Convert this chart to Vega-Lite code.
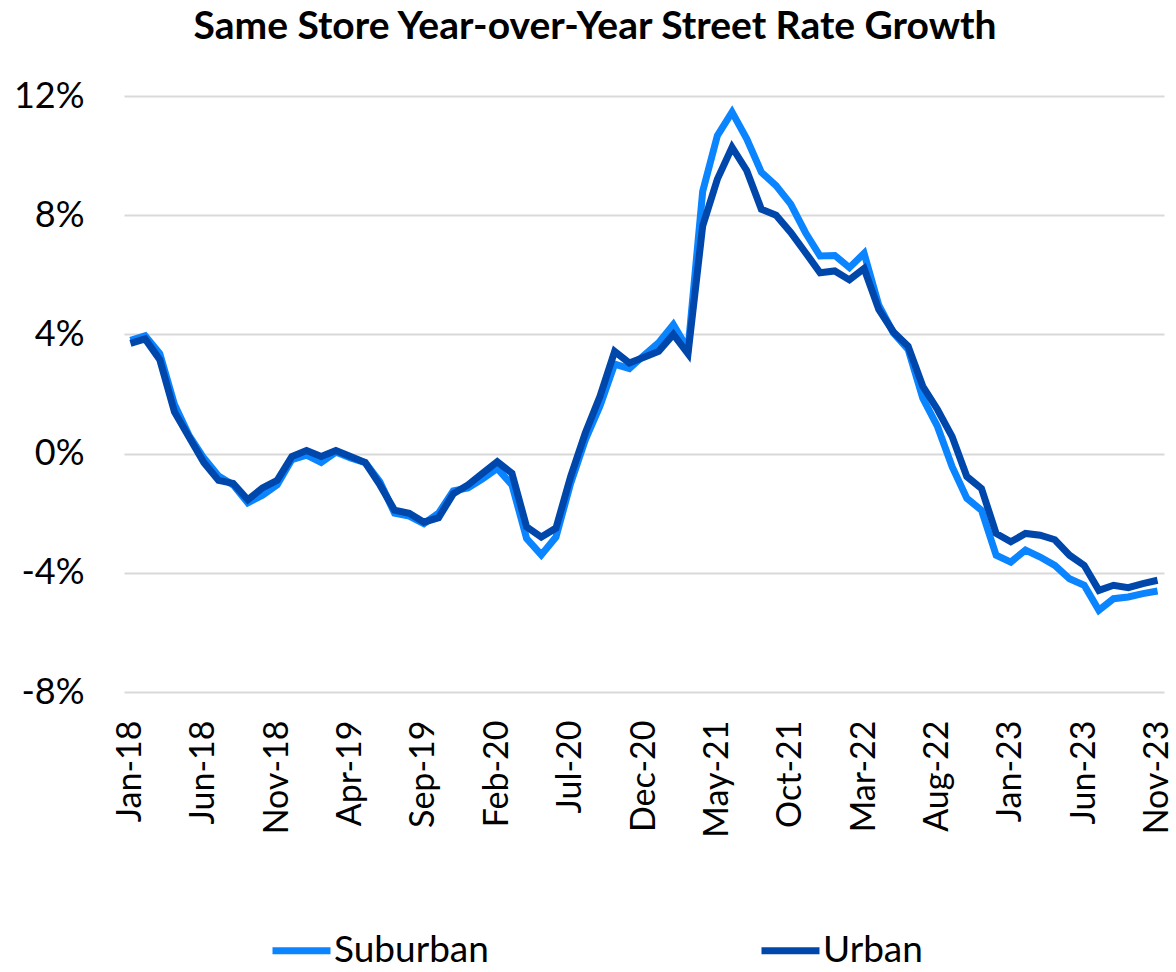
{
  "$schema": "https://vega.github.io/schema/vega-lite/v6.json",
  "width": 1040,
  "height": 596,
  "autosize": "none",
  "padding": {"left": 124, "top": 96, "right": 12, "bottom": 280},
  "background": "white",
  "view": {"stroke": null},
  "title": {
    "text": "Same Store Year-over-Year  Street Rate Growth",
    "font": "Lato",
    "fontSize": 39,
    "fontWeight": "bold",
    "color": "black",
    "anchor": "middle",
    "frame": "group",
    "offset": 31,
    "dx": -49
  },
  "data": {
    "values": [
      {"m": "Jan-18", "Suburban": 3.8, "Urban": 3.7},
      {"m": "Feb-18", "Suburban": 3.95, "Urban": 3.85},
      {"m": "Mar-18", "Suburban": 3.35, "Urban": 3.15},
      {"m": "Apr-18", "Suburban": 1.65, "Urban": 1.4},
      {"m": "May-18", "Suburban": 0.6, "Urban": 0.55},
      {"m": "Jun-18", "Suburban": -0.15, "Urban": -0.3},
      {"m": "Jul-18", "Suburban": -0.75, "Urban": -0.9},
      {"m": "Aug-18", "Suburban": -1.05, "Urban": -1.0},
      {"m": "Sep-18", "Suburban": -1.65, "Urban": -1.55},
      {"m": "Oct-18", "Suburban": -1.4, "Urban": -1.15},
      {"m": "Nov-18", "Suburban": -1.05, "Urban": -0.9},
      {"m": "Dec-18", "Suburban": -0.2, "Urban": -0.1},
      {"m": "Jan-19", "Suburban": -0.05, "Urban": 0.1},
      {"m": "Feb-19", "Suburban": -0.3, "Urban": -0.1},
      {"m": "Mar-19", "Suburban": 0.05, "Urban": 0.1},
      {"m": "Apr-19", "Suburban": -0.15, "Urban": -0.1},
      {"m": "May-19", "Suburban": -0.3, "Urban": -0.3},
      {"m": "Jun-19", "Suburban": -0.95, "Urban": -1.05},
      {"m": "Jul-19", "Suburban": -2.0, "Urban": -1.9},
      {"m": "Aug-19", "Suburban": -2.1, "Urban": -2.0},
      {"m": "Sep-19", "Suburban": -2.35, "Urban": -2.3},
      {"m": "Oct-19", "Suburban": -2.0, "Urban": -2.15},
      {"m": "Nov-19", "Suburban": -1.25, "Urban": -1.35},
      {"m": "Dec-19", "Suburban": -1.15, "Urban": -1.05},
      {"m": "Jan-20", "Suburban": -0.85, "Urban": -0.66},
      {"m": "Feb-20", "Suburban": -0.5, "Urban": -0.27},
      {"m": "Mar-20", "Suburban": -1.05, "Urban": -0.66},
      {"m": "Apr-20", "Suburban": -2.85, "Urban": -2.46},
      {"m": "May-20", "Suburban": -3.4, "Urban": -2.8},
      {"m": "Jun-20", "Suburban": -2.8, "Urban": -2.5},
      {"m": "Jul-20", "Suburban": -1.0, "Urban": -0.77},
      {"m": "Aug-20", "Suburban": 0.46, "Urban": 0.69},
      {"m": "Sep-20", "Suburban": 1.6, "Urban": 1.92},
      {"m": "Oct-20", "Suburban": 3.0, "Urban": 3.43},
      {"m": "Nov-20", "Suburban": 2.85, "Urban": 3.04},
      {"m": "Dec-20", "Suburban": 3.3, "Urban": 3.23},
      {"m": "Jan-21", "Suburban": 3.72, "Urban": 3.43},
      {"m": "Feb-21", "Suburban": 4.33, "Urban": 4.0},
      {"m": "Mar-21", "Suburban": 3.5, "Urban": 3.35},
      {"m": "Apr-21", "Suburban": 8.8, "Urban": 7.64},
      {"m": "May-21", "Suburban": 10.67, "Urban": 9.21},
      {"m": "Jun-21", "Suburban": 11.46, "Urban": 10.28},
      {"m": "Jul-21", "Suburban": 10.56, "Urban": 9.5},
      {"m": "Aug-21", "Suburban": 9.44, "Urban": 8.2},
      {"m": "Sep-21", "Suburban": 8.99, "Urban": 8.0},
      {"m": "Oct-21", "Suburban": 8.37, "Urban": 7.42},
      {"m": "Nov-21", "Suburban": 7.42, "Urban": 6.75},
      {"m": "Dec-21", "Suburban": 6.63, "Urban": 6.07},
      {"m": "Jan-22", "Suburban": 6.65, "Urban": 6.13},
      {"m": "Feb-22", "Suburban": 6.24, "Urban": 5.83},
      {"m": "Mar-22", "Suburban": 6.72, "Urban": 6.21},
      {"m": "Apr-22", "Suburban": 4.98, "Urban": 4.84},
      {"m": "May-22", "Suburban": 4.05, "Urban": 4.08},
      {"m": "Jun-22", "Suburban": 3.5, "Urban": 3.6},
      {"m": "Jul-22", "Suburban": 1.86, "Urban": 2.26},
      {"m": "Aug-22", "Suburban": 0.91, "Urban": 1.48},
      {"m": "Sep-22", "Suburban": -0.44, "Urban": 0.57},
      {"m": "Oct-22", "Suburban": -1.5, "Urban": -0.77},
      {"m": "Nov-22", "Suburban": -1.9, "Urban": -1.17},
      {"m": "Dec-22", "Suburban": -3.41, "Urban": -2.68},
      {"m": "Jan-23", "Suburban": -3.64, "Urban": -2.96},
      {"m": "Feb-23", "Suburban": -3.24, "Urban": -2.68},
      {"m": "Mar-23", "Suburban": -3.47, "Urban": -2.74},
      {"m": "Apr-23", "Suburban": -3.75, "Urban": -2.89},
      {"m": "May-23", "Suburban": -4.2, "Urban": -3.41},
      {"m": "Jun-23", "Suburban": -4.42, "Urban": -3.75},
      {"m": "Jul-23", "Suburban": -5.26, "Urban": -4.59},
      {"m": "Aug-23", "Suburban": -4.87, "Urban": -4.42},
      {"m": "Sep-23", "Suburban": -4.81, "Urban": -4.5},
      {"m": "Oct-23", "Suburban": -4.7, "Urban": -4.36},
      {"m": "Nov-23", "Suburban": -4.61, "Urban": -4.25}
    ]
  },
  "transform": [{"fold": ["Suburban", "Urban"], "as": ["series", "value"]}],
  "mark": {"type": "line", "strokeWidth": 7, "strokeJoin": "miter", "strokeCap": "butt"},
  "encoding": {
    "x": {
      "field": "m",
      "type": "ordinal",
      "sort": null,
      "scale": {"type": "point", "padding": 0.44},
      "axis": {
        "title": null,
        "values": ["Jan-18", "Jun-18", "Nov-18", "Apr-19", "Sep-19", "Feb-20", "Jul-20", "Dec-20", "May-21", "Oct-21", "Mar-22", "Aug-22", "Jan-23", "Jun-23", "Nov-23"],
        "labelAngle": -90,
        "labelAlign": "right",
        "labelBaseline": "middle",
        "labelFont": "Lato",
        "labelFontSize": 34,
        "labelColor": "black",
        "labelPadding": 28,
        "domain": false,
        "ticks": false,
        "grid": false,
        "labelOverlap": false
      }
    },
    "y": {
      "field": "value",
      "type": "quantitative",
      "scale": {"domain": [-8, 12], "nice": false, "zero": false},
      "axis": {
        "title": null,
        "values": [-8, -4, 0, 4, 8, 12],
        "labelExpr": "datum.value + '%'",
        "labelFont": "Lato",
        "labelFontSize": 36,
        "labelColor": "black",
        "labelPadding": 40,
        "domain": false,
        "ticks": false,
        "grid": true,
        "gridColor": "#d9d9d9",
        "gridWidth": 2
      }
    },
    "color": {
      "field": "series",
      "type": "nominal",
      "scale": {"domain": ["Suburban", "Urban"], "range": ["#0A84FF", "#0047AB"]},
      "legend": {
        "title": null,
        "orient": "none",
        "legendX": 145,
        "legendY": 822,
        "direction": "horizontal",
        "symbolType": "stroke",
        "symbolSize": 3364,
        "symbolStrokeWidth": 7,
        "labelFont": "Lato",
        "labelFontSize": 37,
        "labelColor": "black",
        "labelOffset": 0,
        "columnPadding": 258
      }
    }
  }
}
